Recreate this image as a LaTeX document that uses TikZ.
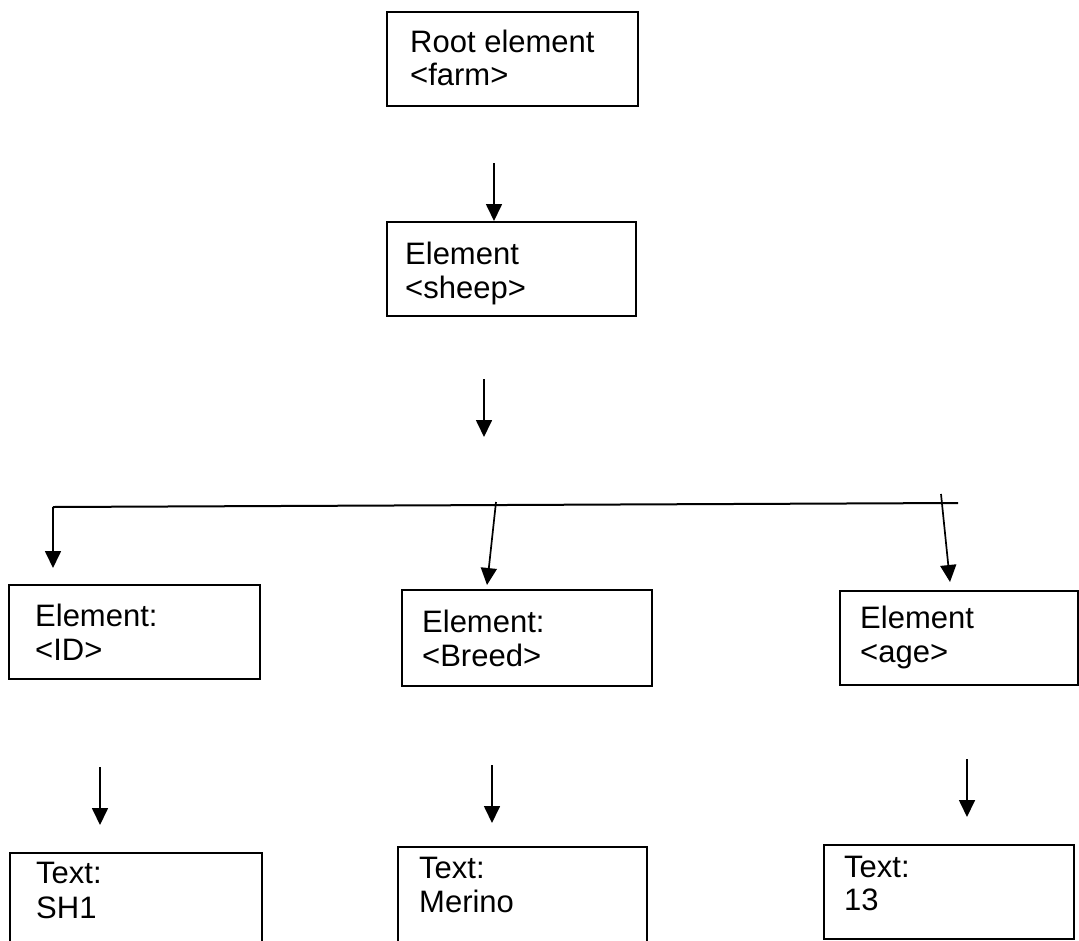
\documentclass[tikz,border=0pt]{standalone}
\usepackage{fontspec}
\setmainfont{Liberation Sans}
\usetikzlibrary{arrows.meta}
\begin{document}
\begin{tikzpicture}[x=1pt,y=-1pt,
  box/.style={draw,line width=2pt,anchor=north west,inner sep=0pt,outer sep=0pt},
  txt/.style={anchor=base west,inner sep=0pt,font=\fontsize{31pt}{34pt}\selectfont},
  arr/.style={line width=1.7pt,-{Triangle[length=17pt,width=16pt]}},
  bar/.style={line width=2pt}]
\useasboundingbox (0,0) rectangle (1079,940);
\fill[white] (0,0) rectangle (1079,940);
\clip (0,0) rectangle (1079,940);
% boxes
\node[box,minimum width=251pt,minimum height=94pt] (root) at (387,12) {};
\node[box,minimum width=249pt,minimum height=94pt] (sheep) at (387,222) {};
\node[box,minimum width=251pt,minimum height=94pt] (id) at (9,585) {};
\node[box,minimum width=250pt,minimum height=96pt] (breed) at (402,590) {};
\node[box,minimum width=238pt,minimum height=94pt] (age) at (840,591) {};
\node[box,minimum width=252pt,minimum height=120pt] (sh1) at (10,853) {};
\node[box,minimum width=249pt,minimum height=120pt] (merino) at (398,847) {};
\node[box,minimum width=250pt,minimum height=94pt] (thirteen) at (824,845) {};
% texts
\node[txt] (rootA) at (410,52) {Root element};
\node[txt] (rootB) at (410,85) {<farm>};
\node[txt] (sheepA) at (405,264) {Element};
\node[txt] (sheepB) at (405,298) {<sheep>};
\node[txt] (idA) at (35,626) {Element:};
\node[txt] (idB) at (35,660) {<ID>};
\node[txt] (breedA) at (422,632) {Element:};
\node[txt] (breedB) at (422,666) {<Breed>};
\node[txt] (ageA) at (860,628) {Element};
\node[txt] (ageB) at (860,662) {<age>};
\node[txt] (sh1A) at (36,883) {Text:};
\node[txt] (sh1B) at (36,918) {SH1};
\node[txt] (merinoA) at (419,878) {Text:};
\node[txt] (merinoB) at (419,912) {Merino};
\node[txt] (thirteenA) at (844,877) {Text:};
\node[txt] (thirteenB) at (844,910) {13};
% connector coordinates
\coordinate (a1s) at (494,163); \coordinate (a1e) at (494,221);
\coordinate (a2s) at (484,379); \coordinate (a2e) at (484,437);
\coordinate (barL) at (53,507); \coordinate (barR) at (958,503);
\coordinate (idE) at (53,568);
\coordinate (brS) at (496,502); \coordinate (brE) at (487,585);
\coordinate (agS) at (941,494); \coordinate (agE) at (950,582);
\coordinate (b1s) at (100,767); \coordinate (b1e) at (100,825);
\coordinate (b2s) at (492,765); \coordinate (b2e) at (492,823);
\coordinate (b3s) at (967,759); \coordinate (b3e) at (967,817);
% connectors
\draw[arr] (a1s) -- (a1e);
\draw[arr] (a2s) -- (a2e);
\draw[bar] (barL) -- (barR);
\draw[arr] (barL) -- (idE);
\draw[arr] (brS) -- (brE);
\draw[arr] (agS) -- (agE);
\draw[arr] (b1s) -- (b1e);
\draw[arr] (b2s) -- (b2e);
\draw[arr] (b3s) -- (b3e);
\end{tikzpicture}
\end{document}
